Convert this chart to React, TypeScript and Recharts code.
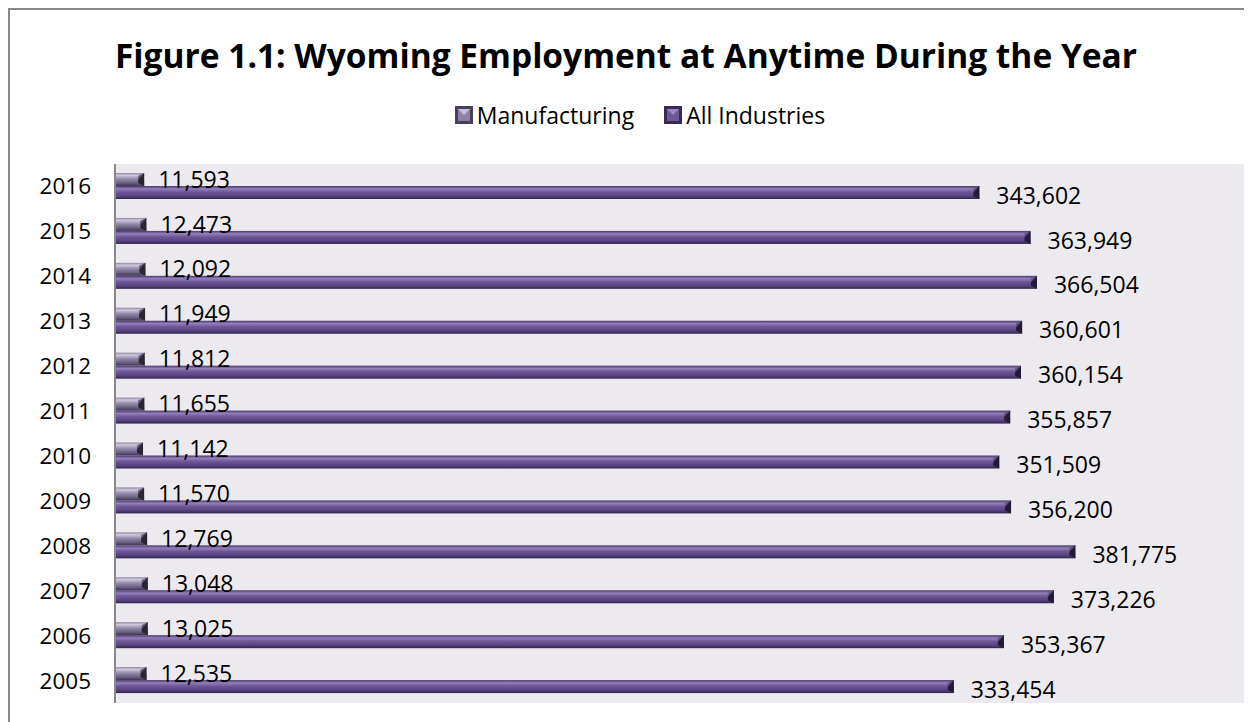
import React from 'react';
import { BarChart, Bar, XAxis, YAxis, CartesianGrid, LabelList } from 'recharts';

const years = ['2005', '2006', '2007', '2008', '2009', '2010', '2011', '2012', '2013', '2014', '2015', '2016'];
const manufacturing = [12535, 13025, 13048, 12769, 11570, 11142, 11655, 11812, 11949, 12092, 12473, 11593];
const allIndustries = [333454, 353367, 373226, 381775, 356200, 351509, 355857, 360154, 360601, 366504, 363949, 343602];
const seriesNames = ['Manufacturing', 'All Industries'];
const title = 'Figure 1.1: Wyoming Employment at Anytime During the Year';

const data = years.map((y, i) => ({ year: y, manufacturing: manufacturing[i], all: allIndustries[i] }));

const FONT = '"Open Sans", Lato, sans-serif';
const fmt = (v: any) => Number(v).toLocaleString('en-US');

const Bar3D = (props: any) => {
  const { x, y, width, height, fill, cap } = props;
  if (!width || width <= 0) return null;
  const c = Math.min(6, width);
  const ex = x + width;
  return (
    <g>
      <rect x={x} y={y} width={width} height={height} fill={fill} />
      <polygon points={`${ex - c},${y + 3} ${ex},${y} ${ex},${y + height} ${ex - c},${y + height - 3}`} fill={cap} />
      <polygon points={`${ex - c},${y + 3} ${ex},${y} ${ex - c},${y + height / 2}`} fill="#8c80a8" opacity={0.6} />
    </g>
  );
};

const LegendBox = () => (
  <div style={{ position: 'absolute', left: 0, top: 90, width: 1260, display: 'flex', justifyContent: 'center', alignItems: 'center', fontFamily: FONT, fontSize: 23, color: '#000', lineHeight: '30px' }}>
    {seriesNames.map((n, i) => (
      <div key={n} style={{ display: 'flex', alignItems: 'center', marginRight: i === 0 ? 30 : 0 }}>
        <svg width={18} height={18} style={{ marginRight: 4 }}>
          <rect x={0} y={0} width={18} height={18} fill={i === 0 ? '#4a3f60' : '#3a2a5a'} />
          <rect x={3} y={3} width={12} height={12} fill={i === 0 ? '#8d82a6' : '#6e5896'} />
          <polygon points="3,3 15,3 9,9" fill={i === 0 ? '#c8c0d8' : '#9a86c0'} />
        </svg>
        <span>{n}</span>
      </div>
    ))}
  </div>
);

export default function App() {
  return (
    <div style={{ position: 'relative', width: 1244, height: 714, borderLeft: '2px solid #888', borderTop: '2px solid #888', boxSizing: 'border-box', background: '#fff' }}>
      <div style={{ position: 'absolute', left: 0, top: 24, width: 1232, textAlign: 'center', fontFamily: FONT, fontWeight: 700, fontSize: 33.5, color: '#000', lineHeight: '42px', whiteSpace: 'nowrap' }}>
        {title}
      </div>
      <LegendBox />
      <BarChart
        width={1242}
        height={712}
        data={data}
        layout="vertical"
        margin={{ top: 154, right: 5, bottom: 19, left: 25 }}
        barGap={0}
        barCategoryGap="21%"
      >
        <defs>
          <linearGradient id="gManu" x1="0" y1="0" x2="0" y2="1">
            <stop offset="0%" stopColor="#8f85a3" />
            <stop offset="18%" stopColor="#cfc8dc" />
            <stop offset="45%" stopColor="#968bab" />
            <stop offset="75%" stopColor="#6c6184" />
            <stop offset="100%" stopColor="#3c3450" />
          </linearGradient>
          <linearGradient id="gAll" x1="0" y1="0" x2="0" y2="1">
            <stop offset="0%" stopColor="#4a376c" />
            <stop offset="22%" stopColor="#9480bb" />
            <stop offset="45%" stopColor="#6f5898" />
            <stop offset="80%" stopColor="#55407c" />
            <stop offset="100%" stopColor="#2f2248" />
          </linearGradient>
        </defs>
        <CartesianGrid horizontal={false} vertical={false} fill="#ece9ef" />
        <XAxis type="number" domain={[0, 450000]} hide />
        <YAxis
          type="category"
          dataKey="year"
          reversed
          width={80}
          tickLine={false}
          tickSize={0}
          tickMargin={24}
          axisLine={{ stroke: '#888', strokeWidth: 2 }}
          tick={{ fill: '#000', fontSize: 22.5, fontFamily: FONT }}
          interval={0}
        />
        <Bar dataKey="manufacturing" name={seriesNames[0]} barSize={13} fill="url(#gManu)" isAnimationActive={false}
          shape={(p: any) => <Bar3D {...p} fill="url(#gManu)" cap="#2a2433" />}>
          <LabelList dataKey="manufacturing" position="right" offset={14} formatter={fmt}
            style={{ fill: '#000', fontSize: 23, fontFamily: FONT }} />
        </Bar>
        <Bar dataKey="all" name={seriesNames[1]} barSize={13} fill="url(#gAll)" isAnimationActive={false}
          shape={(p: any) => <Bar3D {...p} fill="url(#gAll)" cap="#241a36" />}>
          <LabelList dataKey="all" position="right" offset={17} formatter={fmt} dy={3}
            style={{ fill: '#000', fontSize: 23, fontFamily: FONT }} />
        </Bar>
      </BarChart>
    </div>
  );
}
